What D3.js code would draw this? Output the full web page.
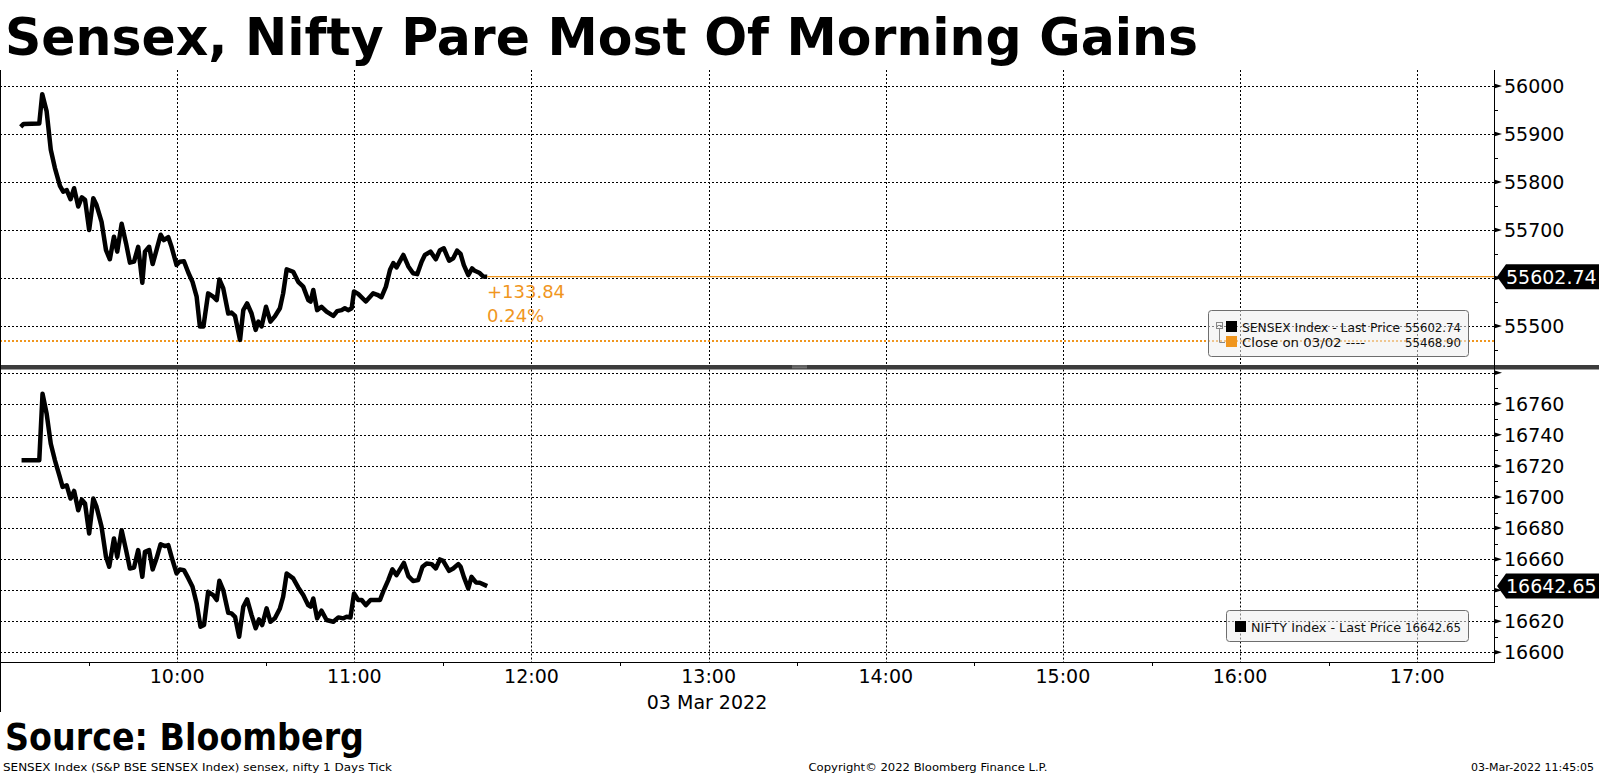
<!DOCTYPE html>
<html><head><meta charset="utf-8">
<script src="https://cdn.jsdelivr.net/npm/d3@7"></script>
<style>body{margin:0;background:#fff;overflow:hidden;} svg{display:block;}</style>
</head><body>
<svg id="c" width="1599" height="777"></svg>
<script>
// ---------- data ----------
const titleText = "Sensex, Nifty Pare Most Of Morning Gains";
const sourceText = "Source: Bloomberg";
const footerLeft = "SENSEX Index (S&P BSE SENSEX Index) sensex, nifty 1 Days  Tick";
const footerMid = "Copyright\u00A9 2022 Bloomberg Finance L.P.";
const footerRight = "03-Mar-2022 11:45:05";
const dateLabel = "03 Mar 2022";
const xTickHours = [10, 11, 12, 13, 14, 15, 16, 17];

// minutes after 09:00
const sensexMinutes = [7.0, 8.0, 13.3, 14.3, 15.8, 17.2, 18.6, 20.3, 21.4, 22.6, 23.9, 25.1, 26.5, 27.7, 28.8, 30.2, 31.6, 32.7, 34.4, 35.9, 37.2, 38.6, 39.7, 41.2, 42.7, 44.0, 45.4, 46.8, 48.2, 49.1, 50.5, 51.7, 53.0, 54.4, 55.5, 57.0, 58.1, 59.8, 60.9, 62.3, 63.8, 65.2, 66.6, 67.7, 68.9, 70.5, 72.2, 73.4, 74.3, 75.6, 77.3, 78.4, 79.6, 81.3, 82.4, 83.7, 85.2, 86.6, 87.5, 88.6, 90.1, 91.6, 93.1, 94.8, 95.9, 97.1, 99.3, 101.0, 102.7, 104.4, 105.2, 106.1, 107.4, 108.9, 110.6, 112.9, 114.2, 115.7, 116.8, 117.9, 119.1, 119.9, 121.3, 123.9, 126.4, 127.8, 129.2, 130.7, 132.1, 133.2, 134.3, 136.6, 138.3, 139.9, 141.3, 142.8, 143.9, 145.8, 147.6, 149.0, 150.3, 152.1, 153.5, 154.8, 156.0, 157.1, 158.6, 159.9, 160.8, 162.3, 163.7, 165.0];
const sensexValues = [55915, 55921, 55922, 55983, 55947, 55867, 55829, 55792, 55780, 55783, 55764, 55787, 55749, 55768, 55763, 55700, 55766, 55752, 55717, 55658, 55639, 55686, 55655, 55713, 55672, 55632, 55634, 55665, 55590, 55655, 55665, 55629, 55658, 55690, 55679, 55685, 55665, 55627, 55634, 55635, 55611, 55592, 55561, 55499, 55499, 55568, 55561, 55554, 55597, 55579, 55526, 55528, 55521, 55471, 55533, 55547, 55526, 55492, 55509, 55499, 55540, 55509, 55520, 55537, 55568, 55618, 55613, 55592, 55582, 55554, 55551, 55575, 55533, 55540, 55530, 55521, 55531, 55533, 55537, 55533, 55537, 55572, 55567, 55551, 55568, 55565, 55560, 55582, 55617, 55631, 55622, 55648, 55624, 55610, 55608, 55634, 55648, 55655, 55639, 55658, 55662, 55636, 55641, 55657, 55650, 55627, 55606, 55620, 55615, 55611, 55603, 55602.74];

const niftyMinutes = [7.3, 13.3, 14.4, 15.8, 17.2, 18.6, 20.1, 21.2, 22.6, 23.9, 25.1, 26.5, 27.7, 28.8, 30.2, 31.6, 32.7, 34.4, 35.9, 37.0, 38.6, 39.7, 41.2, 42.7, 44.0, 45.4, 46.8, 48.2, 49.1, 50.5, 51.7, 53.0, 54.4, 55.9, 57.0, 58.1, 59.8, 60.9, 62.3, 63.8, 65.2, 66.6, 67.9, 69.1, 70.5, 72.2, 73.4, 74.3, 75.6, 77.3, 78.4, 79.6, 81.0, 82.4, 83.7, 85.2, 86.6, 87.7, 88.8, 90.3, 91.6, 93.1, 94.8, 95.9, 97.1, 99.3, 101.0, 102.7, 104.4, 105.2, 106.1, 107.4, 108.9, 110.6, 112.9, 114.6, 116.3, 117.4, 118.7, 119.9, 121.3, 122.5, 123.9, 125.5, 128.7, 130.0, 131.5, 132.9, 134.3, 136.8, 138.3, 139.9, 141.6, 143.1, 144.5, 146.2, 147.6, 149.0, 150.1, 152.1, 153.5, 155.2, 156.0, 157.1, 158.6, 159.7, 161.2, 162.5, 165.0];
const niftyValues = [16723.6, 16723.6, 16766.4, 16753.6, 16734.3, 16723.6, 16713.9, 16706.5, 16707.5, 16699.0, 16703.9, 16691.5, 16698.3, 16695.8, 16676.5, 16699.0, 16693.6, 16680.8, 16661.5, 16655.1, 16673.3, 16661.5, 16678.6, 16665.8, 16654.0, 16654.6, 16665.8, 16648.6, 16664.7, 16665.8, 16653.4, 16660.4, 16669.6, 16668.4, 16669.0, 16661.5, 16650.8, 16653.4, 16652.9, 16647.6, 16642.2, 16631.5, 16616.5, 16617.6, 16639.0, 16636.9, 16633.7, 16646.1, 16640.1, 16625.5, 16625.1, 16622.9, 16610.1, 16629.4, 16634.1, 16624.0, 16615.5, 16621.2, 16617.6, 16628.3, 16619.7, 16621.9, 16628.3, 16635.8, 16650.8, 16647.6, 16641.8, 16636.9, 16630.4, 16629.4, 16634.7, 16621.9, 16626.8, 16620.8, 16619.7, 16622.5, 16621.9, 16622.9, 16622.5, 16637.9, 16633.7, 16633.7, 16630.4, 16633.7, 16633.7, 16640.1, 16646.5, 16653.4, 16649.7, 16657.6, 16649.1, 16645.9, 16646.5, 16655.1, 16657.2, 16656.8, 16654.0, 16659.8, 16658.9, 16652.5, 16654.0, 16656.8, 16655.1, 16648.6, 16641.1, 16648.6, 16645.0, 16644.8, 16642.65];

const sensexTicks = [55500, 55600, 55700, 55800, 55900, 56000];
const sensexMinorTicks = [55450, 55550, 55650, 55750, 55850, 55950];
const sensexHiddenLabels = [55600];          // covered by the last-price tag
const niftyTicks = [16600, 16620, 16640, 16660, 16680, 16700, 16720, 16740, 16760, 16780];
const niftyMinorTicks = [16610, 16630, 16650, 16670, 16690, 16710, 16730, 16750, 16770];
const niftyHiddenLabels = [16640, 16780];    // covered by tag / clipped at top

const sensexLast = 55602.74, sensexPrevClose = 55468.90;
const niftyLast = 16642.65;
const sensexChange = "+133.84", sensexChangePct = "0.24%";
const sensexLegend = ["SENSEX Index  -  Last Price", "Close on 03/02 ----"];
const niftyLegend = "NIFTY Index  -  Last Price";

// ---------- layout ----------
const W = 1599;
const plotL = 0, plotR = 1494;
const topY0 = 70, topY1 = 365;
const botY0 = 369.5, botY1 = 662;
const ORANGE = "#f0961e";
const FONT = "'DejaVu Sans', Verdana, sans-serif";

const svg = d3.select("#c");
const base = new Date(2022, 2, 3, 9, 0, 0);
const toDate = m => new Date(base.getTime() + m * 60000);

const x = d3.scaleTime().domain([toDate(0), toDate(506)]).range([plotL, plotR]);
const yTop = d3.scaleLinear().domain([55418.75, 56033.3]).range([topY1, topY0]);
const yBot = d3.scaleLinear().domain([16593.8, 16782.05]).range([botY1, botY0]);

const sensex = sensexMinutes.map((m, i) => ({ t: toDate(m), v: sensexValues[i] }));
const nifty = niftyMinutes.map((m, i) => ({ t: toDate(m), v: niftyValues[i] }));
const hourDates = d3.timeHour.range(toDate(60), toDate(490));
const halfHourDates = d3.timeMinute.every(30).range(toDate(1), toDate(506)).filter(d => d.getMinutes() === 30);

// ---------- gridlines ----------
function panelGrid(y, ticks, y0, y1) {
  const g = svg.append("g");
  g.selectAll("line.h").data(ticks.filter(t => y(t) >= y0 && y(t) <= y1)).join("line")
    .attr("x1", plotL).attr("x2", plotR)
    .attr("y1", d => Math.round(y(d)) + 0.5).attr("y2", d => Math.round(y(d)) + 0.5)
    .attr("stroke", "#000").attr("stroke-width", 1).attr("stroke-dasharray", "2,2");
  g.selectAll("line.v").data(hourDates).join("line")
    .attr("x1", d => Math.round(x(d)) + 0.5).attr("x2", d => Math.round(x(d)) + 0.5)
    .attr("y1", y0).attr("y2", y1)
    .attr("stroke", "#000").attr("stroke-width", 1).attr("stroke-dasharray", "2,2");
}
panelGrid(yTop, sensexTicks, topY0, topY1);
panelGrid(yBot, niftyTicks, botY0, botY1);

// previous close (dotted orange) and last price line (solid orange)
svg.append("line")
  .attr("x1", plotL).attr("x2", plotR)
  .attr("y1", yTop(sensexPrevClose)).attr("y2", yTop(sensexPrevClose))
  .attr("stroke", ORANGE).attr("stroke-width", 2).attr("stroke-dasharray", "2,2");
svg.append("line")
  .attr("x1", x(sensex[sensex.length - 1].t)).attr("x2", plotR)
  .attr("y1", yTop(sensexLast)).attr("y2", yTop(sensexLast))
  .attr("stroke", ORANGE).attr("stroke-width", 1.2);

// ---------- legends ----------
function legendBox(x0, y0, w, h) {
  svg.append("rect").attr("x", x0 + 0.5).attr("y", y0 + 0.5).attr("width", w).attr("height", h)
    .attr("rx", 3).attr("fill", "#eeeeee").attr("fill-opacity", 0.55)
    .attr("stroke", "#6e6e6e").attr("stroke-width", 1);
}
function legendText(g, xx, yy, txt, anchor, len) {
  const t = g.append("text").attr("x", xx).attr("y", yy).text(txt);
  if (anchor) t.attr("text-anchor", anchor);
  if (len) t.attr("textLength", len).attr("lengthAdjust", "spacingAndGlyphs");
  return t;
}
legendBox(1208, 310, 260, 46);
legendBox(1226, 610, 242, 31);
// tree icon
svg.append("rect").attr("x", 1216.5).attr("y", 322.5).attr("width", 6).attr("height", 6)
  .attr("fill", "none").attr("stroke", "#888");
svg.append("line").attr("x1", 1217.5).attr("x2", 1221.5).attr("y1", 325.5).attr("y2", 325.5).attr("stroke", "#888");
svg.append("path").attr("d", "M1219.5,329 V342.5 H1225").attr("fill", "none").attr("stroke", "#888");
svg.append("rect").attr("x", 1226).attr("y", 321).attr("width", 11).attr("height", 11).attr("fill", "#000");
svg.append("rect").attr("x", 1226).attr("y", 336).attr("width", 11).attr("height", 11).attr("fill", ORANGE);
svg.append("rect").attr("x", 1235).attr("y", 621).attr("width", 11).attr("height", 11).attr("fill", "#000");
const lg = svg.append("g").attr("font-family", FONT).attr("font-size", 12.5).attr("fill", "#111");
legendText(lg, 1242, 331.5, sensexLegend[0], null, 158);
legendText(lg, 1461, 331.5, d3.format(".2f")(sensexLast), "end", 56);
legendText(lg, 1242, 346.5, sensexLegend[1], null, 123);
legendText(lg, 1461, 346.5, d3.format(".2f")(sensexPrevClose), "end", 56);
legendText(lg, 1251, 631.5, niftyLegend, null, 150);
legendText(lg, 1461, 631.5, d3.format(".2f")(niftyLast), "end", 56);

// ---------- series ----------
const lineTop = d3.line().x(d => x(d.t)).y(d => yTop(d.v));
const lineBot = d3.line().x(d => x(d.t)).y(d => yBot(d.v));
svg.append("path").datum(sensex).attr("d", lineTop).attr("fill", "none")
  .attr("stroke", "#000").attr("stroke-width", 4.5).attr("stroke-linejoin", "round");
svg.append("path").datum(nifty).attr("d", lineBot).attr("fill", "none")
  .attr("stroke", "#000").attr("stroke-width", 4.5).attr("stroke-linejoin", "round");

// change annotation
const ann = svg.append("g").attr("font-family", FONT).attr("font-size", 18).attr("fill", ORANGE);
ann.append("text").attr("x", 487).attr("y", 298).text(sensexChange);
ann.append("text").attr("x", 487).attr("y", 322).text(sensexChangePct);

// ---------- separator ----------
svg.append("rect").attr("x", 0).attr("y", 365).attr("width", W).attr("height", 4.5).attr("fill", "#3c3c3c");
[366, 367.8].forEach(yy => svg.append("line").attr("x1", 792).attr("x2", 807).attr("y1", yy).attr("y2", yy)
  .attr("stroke", "#9a9a9a").attr("stroke-width", 0.8));

// ---------- right axes ----------
svg.append("line").attr("x1", plotR + 0.5).attr("x2", plotR + 0.5).attr("y1", topY0).attr("y2", botY1)
  .attr("stroke", "#000").attr("stroke-width", 1);

function rightAxis(y, ticks, minor, hidden, y0, y1) {
  const g = svg.append("g");
  const inR = t => y(t) >= y0 - 1 && y(t) <= y1 + 1;
  g.selectAll("path.tri").data(ticks.filter(inR)).join("path")
    .attr("d", d => `M${plotR},${y(d) - 2.5} L${plotR + 8},${y(d)} L${plotR},${y(d) + 2.5} Z`)
    .attr("fill", "#000");
  g.selectAll("line.mn").data(minor.filter(inR)).join("line")
    .attr("x1", plotR).attr("x2", plotR + 4)
    .attr("y1", d => Math.round(y(d)) + 0.5).attr("y2", d => Math.round(y(d)) + 0.5)
    .attr("stroke", "#000");
  g.selectAll("text").data(ticks.filter(t => inR(t) && !hidden.includes(t))).join("text")
    .attr("x", 1504).attr("y", d => y(d)).attr("dy", "0.36em")
    .attr("font-family", FONT).attr("font-size", 19).attr("fill", "#000")
    .text(d => d);
}
rightAxis(yTop, sensexTicks, sensexMinorTicks, sensexHiddenLabels, topY0, topY1);
rightAxis(yBot, niftyTicks, niftyMinorTicks, niftyHiddenLabels, botY0, botY1);

function priceTag(yc, label) {
  svg.append("path")
    .attr("d", `M1497,${yc} L1506,${yc - 12.5} L${W},${yc - 12.5} L${W},${yc + 12.5} L1506,${yc + 12.5} Z`)
    .attr("fill", "#000");
  svg.append("text").attr("x", 1506).attr("y", yc).attr("dy", "0.36em")
    .attr("font-family", FONT).attr("font-size", 19).attr("fill", "#fff").text(label);
}
priceTag(yTop(sensexLast), d3.format(".2f")(sensexLast));
priceTag(yBot(niftyLast), d3.format(".2f")(niftyLast));

// ---------- x axis ----------
svg.append("line").attr("x1", plotL).attr("x2", plotR + 1).attr("y1", botY1 + 0.5).attr("y2", botY1 + 0.5)
  .attr("stroke", "#000");
svg.append("line").attr("x1", 0.5).attr("x2", 0.5).attr("y1", topY0).attr("y2", 712).attr("stroke", "#000");
svg.append("g").selectAll("line").data(halfHourDates).join("line")
  .attr("x1", d => Math.round(x(d)) + 0.5).attr("x2", d => Math.round(x(d)) + 0.5)
  .attr("y1", botY1).attr("y2", botY1 + 4).attr("stroke", "#000");
const fmt = d3.timeFormat("%H:%M");
svg.append("g").selectAll("text").data(hourDates.filter(d => xTickHours.includes(d.getHours()))).join("text")
  .attr("x", d => x(d)).attr("y", 683).attr("text-anchor", "middle")
  .attr("font-family", FONT).attr("font-size", 19).attr("fill", "#000")
  .text(d => fmt(d));
svg.append("text").attr("x", 707).attr("y", 708.5).attr("text-anchor", "middle")
  .attr("font-family", FONT).attr("font-size", 19).attr("fill", "#000").text(dateLabel);

// ---------- titles & footer ----------
svg.append("text").attr("x", 5).attr("y", 55).attr("font-family", FONT).attr("font-weight", "bold")
  .attr("font-size", 52).attr("fill", "#000")
  .attr("textLength", 1193).attr("lengthAdjust", "spacingAndGlyphs").text(titleText);
svg.append("text").attr("x", 5).attr("y", 750).attr("font-family", FONT).attr("font-weight", "bold")
  .attr("font-size", 38).attr("fill", "#000")
  .attr("textLength", 359).attr("lengthAdjust", "spacingAndGlyphs").text(sourceText);
const ft = svg.append("g").attr("font-family", FONT).attr("font-size", 11).attr("fill", "#000");
ft.append("text").attr("x", 3).attr("y", 771).attr("textLength", 389).attr("lengthAdjust", "spacingAndGlyphs").text(footerLeft);
ft.append("text").attr("x", 928).attr("y", 771).attr("text-anchor", "middle").attr("textLength", 239).attr("lengthAdjust", "spacingAndGlyphs").text(footerMid);
ft.append("text").attr("x", 1594).attr("y", 771).attr("text-anchor", "end").text(footerRight);
</script>
</body></html>
